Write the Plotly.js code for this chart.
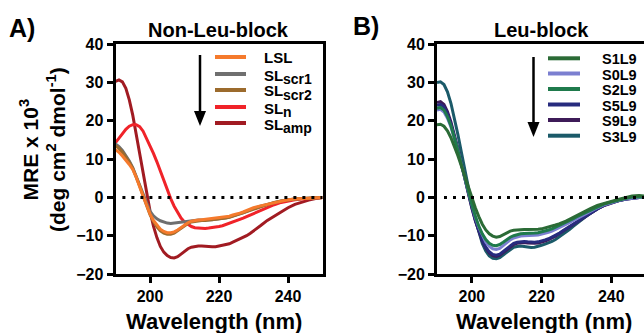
<!DOCTYPE html>
<html><head><meta charset="utf-8">
<script src="https://cdn.plot.ly/plotly-3.0.1.min.js"></script>
<style>html,body{margin:0;padding:0;background:#fff;}#chart{width:644px;height:333px;}</style>
</head><body><div id="chart"></div>
<script>
// wavelength grid (nm)
const wavelength = [190,191,192,193,194,195,196,197,198,199,200,201,202,203,204,205,206,207,208,209,210,211,212,213,214,215,216,217,218,219,220,221,222,223,224,225,226,227,228,229,230,232,234,236,238,240,242,244,246,248,250];

// Panel A: Non-Leu-block (MRE x 10^3)
const namesA  = ['LSL','SL','SL','SL','SL'];
const subsA   = ['','scr1','scr2','n','amp'];
const colorsA = ['#f57a2c','#6f6f6f','#9c6b2d','#f02329','#a11b22'];
const LSL   = [12.5,11.8,10.8,9.8,8.6,7.3,5.3,2.8,0.3,-2.2,-4.3,-6.0,-7.3,-8.3,-8.9,-9.2,-9.2,-9.0,-8.5,-7.8,-7.1,-6.6,-6.2,-6.0,-5.9,-5.8,-5.7,-5.6,-5.6,-5.5,-5.4,-5.3,-5.1,-4.9,-4.6,-4.4,-4.1,-3.8,-3.4,-3.0,-2.7,-2.2,-1.8,-1.3,-0.9,-0.6,-0.4,-0.3,-0.2,-0.1,0];
const SLscr1= [14.0,13.3,12.3,11.0,9.5,7.8,5.5,3.0,0.5,-1.8,-3.6,-4.8,-5.6,-6.1,-6.5,-6.7,-6.8,-6.7,-6.5,-6.3,-6.2,-6.1,-6.0,-6.0,-5.9,-5.9,-5.9,-5.8,-5.8,-5.7,-5.6,-5.5,-5.3,-5.1,-4.9,-4.6,-4.3,-4.0,-3.6,-3.2,-2.9,-2.3,-1.8,-1.3,-0.9,-0.6,-0.4,-0.3,-0.2,-0.1,0];
const SLscr2= [13.5,12.8,11.8,10.6,9.2,7.6,5.5,3.0,0.4,-2.2,-4.5,-6.3,-7.7,-8.7,-9.3,-9.6,-9.6,-9.3,-8.7,-8.0,-7.3,-6.8,-6.4,-6.2,-6.1,-6.0,-6.0,-5.9,-5.9,-5.8,-5.7,-5.6,-5.4,-5.2,-4.9,-4.6,-4.3,-4.0,-3.6,-3.2,-2.9,-2.3,-1.8,-1.3,-0.9,-0.6,-0.4,-0.3,-0.2,-0.1,0];
const SLn   = [14.3,15.5,16.8,17.8,18.6,19.0,19.0,18.5,17.3,15.5,13.3,11.5,9.3,6.8,4.3,1.9,-0.3,-2.3,-4.0,-5.4,-6.4,-7.1,-7.6,-7.9,-8.0,-8.1,-8.1,-8.0,-7.9,-7.7,-7.6,-7.4,-7.1,-6.8,-6.4,-6.0,-5.7,-5.4,-5.0,-4.6,-4.2,-3.4,-2.6,-1.9,-1.3,-0.9,-0.6,-0.4,-0.2,-0.1,0];
const SLamp = [30.3,30.7,30.2,28.5,25.5,21.5,16.5,11.5,6.0,1.0,-3.5,-7.5,-10.5,-12.8,-14.3,-15.2,-15.7,-15.8,-15.5,-14.8,-14.0,-13.4,-13.0,-12.8,-12.7,-12.7,-12.8,-12.8,-12.9,-12.9,-12.7,-12.6,-12.4,-12.1,-11.7,-11.3,-10.9,-10.5,-10.0,-9.4,-8.8,-7.4,-6.0,-4.9,-3.7,-2.7,-1.8,-1.2,-0.7,-0.3,0];
const seriesA = [LSL, SLscr1, SLscr2, SLn, SLamp];
const drawOrderA = [4,3,1,2,0];

// Panel B: Leu-block
const namesB  = ['S1L9','S0L9','S2L9','S5L9','S9L9','S3L9'];
const subsB   = ['','','','','',''];
const colorsB = ['#2b6b36','#7b7fd0','#1f7a4c','#272b7e','#3d1b58','#1b5a69'];
const S1L9 = [19.0,19.1,18.6,17.4,15.6,13.4,10.9,8.2,5.4,2.6,-0.1,-2.7,-5.0,-7.0,-8.5,-9.5,-10.1,-10.4,-10.2,-9.7,-9.2,-8.8,-8.6,-8.5,-8.4,-8.4,-8.4,-8.4,-8.4,-8.3,-8.2,-8.0,-7.8,-7.5,-7.2,-6.9,-6.6,-6.2,-5.7,-5.2,-4.7,-3.9,-2.9,-2.1,-1.5,-1.0,-0.5,-0.1,0.4,0.5,0.3];
const S0L9 = [22.8,23.0,22.3,20.7,18.4,15.5,12.2,8.6,5.0,1.4,-2.0,-5.1,-7.8,-10.0,-11.7,-12.8,-13.4,-13.6,-13.3,-12.6,-11.8,-11.1,-10.6,-10.3,-10.1,-10.0,-10.0,-10.0,-9.9,-9.8,-9.6,-9.4,-9.1,-8.8,-8.4,-8.0,-7.6,-7.1,-6.6,-6.1,-5.6,-4.6,-3.6,-2.7,-1.9,-1.3,-0.8,-0.4,-0.1,0.0,0.0];
const S2L9 = [23.3,23.5,22.8,21.1,18.7,15.7,12.3,8.7,5.0,1.4,-1.9,-4.9,-7.5,-9.5,-11.0,-12.0,-12.5,-12.6,-12.3,-11.7,-11.0,-10.4,-10.0,-9.7,-9.5,-9.4,-9.4,-9.4,-9.3,-9.2,-9.0,-8.8,-8.5,-8.2,-7.8,-7.4,-7.0,-6.6,-6.1,-5.6,-5.1,-4.2,-3.3,-2.5,-1.7,-1.2,-0.7,-0.3,0.1,0.2,0.1];
const S5L9 = [24.0,24.3,23.6,21.8,19.2,16.1,12.5,8.7,4.8,1.0,-2.6,-5.9,-8.8,-11.2,-13.0,-14.2,-14.9,-15.1,-14.8,-14.1,-13.3,-12.5,-12.0,-11.7,-11.5,-11.5,-11.6,-11.7,-11.7,-11.6,-11.4,-11.1,-10.8,-10.4,-9.9,-9.4,-8.8,-8.2,-7.6,-7.0,-6.4,-5.2,-4.0,-3.0,-2.0,-1.4,-0.9,-0.5,-0.2,0.0,0.0];
const S9L9 = [24.8,25.0,24.3,22.4,19.7,16.4,12.7,8.8,4.8,0.9,-2.8,-6.1,-9.0,-11.4,-13.2,-14.5,-15.2,-15.4,-15.1,-14.4,-13.6,-12.8,-12.3,-12.0,-11.8,-11.8,-11.9,-12.0,-12.0,-11.9,-11.7,-11.4,-11.0,-10.6,-10.1,-9.5,-8.9,-8.3,-7.7,-7.1,-6.5,-5.3,-4.1,-3.0,-2.1,-1.4,-0.9,-0.5,-0.2,0.0,0.0];
const S3L9 = [30.0,30.2,29.5,27.6,24.6,20.8,16.4,11.8,7.0,2.4,-1.9,-5.8,-9.2,-12.0,-14.0,-15.3,-15.9,-16.0,-15.7,-15.0,-14.2,-13.5,-13.0,-12.8,-12.7,-12.8,-13.0,-13.1,-13.0,-12.8,-12.5,-12.2,-11.9,-11.5,-11.0,-10.4,-9.8,-9.1,-8.4,-7.6,-6.9,-5.5,-4.1,-3.0,-2.0,-1.3,-0.8,-0.4,0.0,0.2,0.1];
const seriesB = [S1L9, S0L9, S2L9, S5L9, S9L9, S3L9];
const drawOrderB = [5,4,3,1,2,0];

const yTicks = [-20,-10,0,10,20,30,40];
const xTicks = [200,220,240];

const W = 644, H = 333;
const px = v => v / W;
const py = v => 1 - v / H;
const FONT = 'Arial, "Liberation Sans", sans-serif';

const traces = [];
drawOrderA.forEach(i => traces.push({x: wavelength, y: seriesA[i], type:'scatter', mode:'lines',
  line:{color:colorsA[i], width:3}, xaxis:'x', yaxis:'y', showlegend:false, hoverinfo:'skip'}));
drawOrderB.forEach(i => traces.push({x: wavelength, y: seriesB[i], type:'scatter', mode:'lines',
  line:{color:colorsB[i], width:3}, xaxis:'x2', yaxis:'y2', showlegend:false, hoverinfo:'skip'}));

const axisCommon = {showgrid:false, zeroline:false, showline:true, linecolor:'#000', linewidth:3,
  mirror:true, ticks:'outside', ticklen:6, tickwidth:3, tickcolor:'#000',
  tickfont:{family:FONT, size:16, color:'#000', weight:'bold'}};

const shapes = [];
const annotations = [];

// zero dotted lines
[['x','y'],['x2','y2']].forEach(([xr,yr]) => shapes.push({type:'line', xref:xr, yref:yr, x0:192, x1:250, y0:0, y1:0,
  line:{color:'#000', width:3, dash:'3px,6px'}}));

// legends (manual)
function legend(names, subs, colors, yList, x0, x1, xt, fsize, arrowX, arrowTop, arrowBot) {
  names.forEach((n, i) => {
    shapes.push({type:'line', xref:'paper', yref:'paper', x0:px(x0), x1:px(x1), y0:py(yList[i]), y1:py(yList[i]),
      line:{color:colors[i], width:4}});
    annotations.push({xref:'paper', yref:'paper', x:px(xt), y:py(yList[i]+1), xanchor:'left', yanchor:'middle',
      text:'<b>'+n+'</b>', showarrow:false, font:{family:FONT, size:fsize, color:'#000'}});
    if (subs[i]) {
      annotations.push({xref:'paper', yref:'paper', x:px(xt+19), y:py(yList[i]+5), xanchor:'left', yanchor:'middle',
        text:'<b>'+subs[i]+'</b>', showarrow:false, font:{family:FONT, size:fsize-1, color:'#000'}});
    }
  });
  shapes.push({type:'line', xref:'paper', yref:'paper', x0:px(arrowX), x1:px(arrowX), y0:py(arrowTop), y1:py(arrowBot-12),
    line:{color:'#000', width:2.5}});
  shapes.push({type:'path', xref:'paper', yref:'paper',
    path:`M ${px(arrowX-6)} ${py(arrowBot-15)} L ${px(arrowX+6)} ${py(arrowBot-15)} L ${px(arrowX)} ${py(arrowBot)} Z`,
    fillcolor:'#000', line:{color:'#000', width:0}});
}
legend(namesA, subsA, colorsA, [57,74,90,107,123], 215, 246, 262, 15, 200, 55, 126);
legend(namesB, subsB, colorsB, [58.3,73.5,89,104.5,120,135.7], 548, 580, 600, 14.5, 533.5, 57, 137);

// titles
function txt(t, x, y, size, extra) {
  annotations.push(Object.assign({xref:'paper', yref:'paper', x:px(x), y:py(y), xanchor:'center', yanchor:'middle',
    text:'<b>'+t+'</b>', showarrow:false, font:{family:FONT, size:size, color:'#000'}}, extra||{}));
}
txt('A)', 22, 28, 25);
txt('B)', 366, 26, 25);
txt('Non-Leu-block', 218.5, 30, 20);
txt('Leu-block', 541, 30, 20);
txt('Wavelength (nm)', 214, 321, 22);
txt('Wavelength (nm)', 544, 321, 22);
txt('MRE x 10<sup>3</sup><br>(deg cm<sup>2</sup> dmol<sup>-1</sup>)', 42, 150, 21, {textangle:-90});

const layout = {
  width:W, height:H, margin:{l:0,r:0,t:0,b:0}, paper_bgcolor:'#fff', plot_bgcolor:'#fff',
  showlegend:false,
  xaxis: Object.assign({}, axisCommon, {domain:[px(115.5), px(322.5)], range:[190,250], tickvals:xTicks, anchor:'y'}),
  yaxis: Object.assign({}, axisCommon, {domain:[py(274), py(44.3)], range:[-20,40], tickvals:yTicks, anchor:'x'}),
  xaxis2: Object.assign({}, axisCommon, {domain:[px(437), 1], range:[190,249.4], tickvals:xTicks, anchor:'y2'}),
  yaxis2: Object.assign({}, axisCommon, {domain:[py(274), py(44.3)], range:[-20,40], tickvals:yTicks, anchor:'x2'}),
  shapes: shapes, annotations: annotations
};
Plotly.newPlot('chart', traces, layout, {staticPlot:true, displayModeBar:false});
</script></body></html>
